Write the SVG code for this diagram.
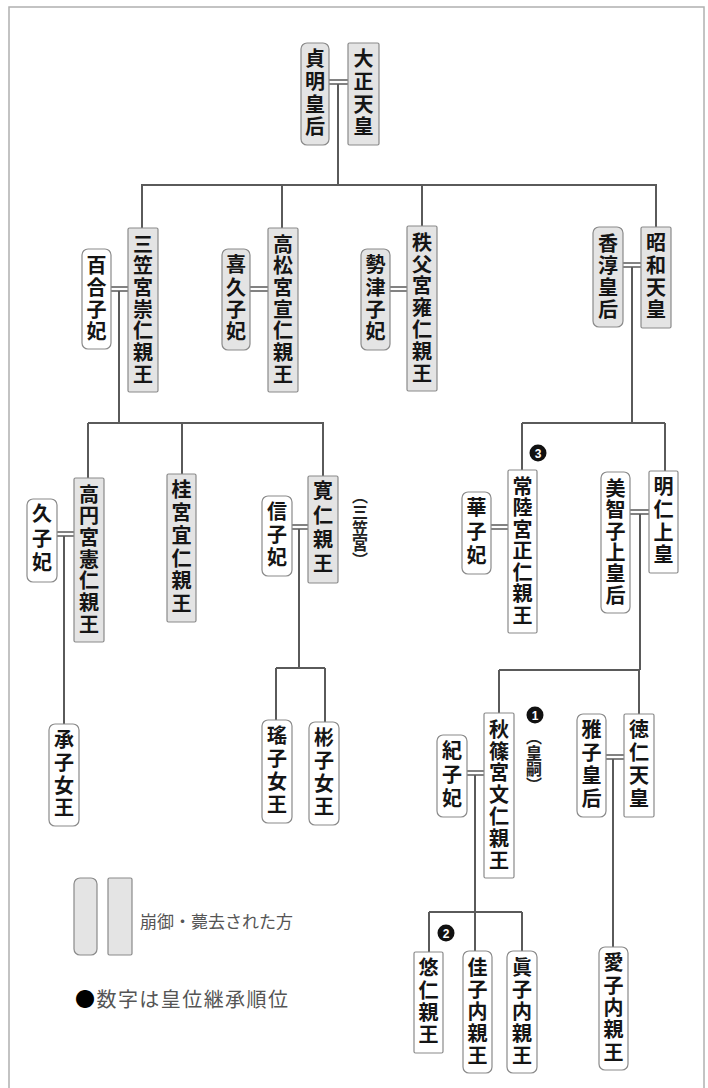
<svg xmlns="http://www.w3.org/2000/svg" width="708" height="1088" viewBox="0 0 708 1088">
<style>
.bg{fill:#ffffff}
.frame{fill:none;stroke:#b0b0b0;stroke-width:1.5}
.dead{fill:#e4e4e4;stroke:#8a8a8a;stroke-width:1.2}
.live{fill:#ffffff;stroke:#8a8a8a;stroke-width:1.2}
.v{font-family:"Noto Sans CJK JP","Noto Sans CJK SC",sans-serif;font-weight:700;font-size:20px;fill:#151515;writing-mode:vertical-rl;text-anchor:middle}
.note{font-family:"Noto Sans CJK JP","Noto Sans CJK SC",sans-serif;font-weight:700;font-size:16px;fill:#222;writing-mode:vertical-rl;text-anchor:middle}
.ln{fill:none;stroke:#5a5a5a;stroke-width:2}
.mar{fill:none;stroke:#5a5a5a;stroke-width:1.5}
.num{fill:#111}
.numt{font-family:"Liberation Sans",sans-serif;font-weight:700;font-size:12px;fill:#fff;text-anchor:middle}
.leg{font-family:"Noto Sans CJK JP","Noto Sans CJK SC",sans-serif;fill:#555}
</style>
<rect class="bg" x="0" y="0" width="708" height="1088"/>
<rect class="frame" x="9" y="7" width="695" height="1095"/>

<g id="connectors">
  <path class="mar" d="M329 80H348M329 84H348"/>
  <path class="ln" d="M338 84V185M141 185H657M142 185V228M282 185V228M422 185V227M656 185V227"/>
  <path class="mar" d="M111 287H128M111 291H128"/>
  <path class="mar" d="M250 287H268M250 291H268"/>
  <path class="mar" d="M390 287H407M390 291H407"/>
  <path class="mar" d="M623 263H641M623 267H641"/>
  <path class="ln" d="M119 291V423M88 423H324M88 423V478M182 423V474M323 423V476"/>
  <path class="mar" d="M57 532H74M57 536H74"/>
  <path class="ln" d="M64 536V724"/>
  <path class="mar" d="M292 525H308M292 529H308"/>
  <path class="ln" d="M299 529V668M276 668H325M276 668V720M325 668V722"/>
  <path class="ln" d="M632 267V423M522 423H665M522 423V470M665 423V471"/>
  <path class="mar" d="M491 525H508M491 529H508"/>
  <path class="mar" d="M630 510H649M630 514H649"/>
  <path class="ln" d="M640 514V670M499 670H640M499 670V713M639 670V714"/>
  <path class="mar" d="M467 771H484M467 775H484"/>
  <path class="ln" d="M475 775V951M429 912H522M429 912V952M522 912V951"/>
  <path class="mar" d="M606 755H624M606 759H624"/>
  <path class="ln" d="M613 759V947"/>
</g>

<g id="n-teimei"><rect class="dead" x="301" y="43" width="28" height="102" rx="6"/><text class="v" x="315" y="94" letter-spacing="2.7">貞明皇后</text></g>
<g id="n-taisho"><rect class="dead" x="348" y="43" width="31" height="102" rx="1.5"/><text class="v" x="363.5" y="94" letter-spacing="2.7">大正天皇</text></g>

<g id="n-mikasa"><rect class="dead" x="128" y="228" width="30" height="164" rx="1.5"/><text class="v" x="143" y="310" letter-spacing="1.7">三笠宮崇仁親王</text></g>
<g id="n-yuriko"><rect class="live" x="82" y="249" width="29" height="100" rx="6"/><text class="v" x="96.5" y="299" letter-spacing="2">百合子妃</text></g>
<g id="n-kikuko"><rect class="dead" x="222" y="249" width="28" height="101" rx="6"/><text class="v" x="236" y="299.5" letter-spacing="2.3">喜久子妃</text></g>
<g id="n-takamatsu"><rect class="dead" x="268" y="228" width="30" height="164" rx="1.5"/><text class="v" x="283" y="310" letter-spacing="1.7">高松宮宣仁親王</text></g>
<g id="n-setsuko"><rect class="dead" x="361" y="249" width="29" height="101" rx="6"/><text class="v" x="375.5" y="299.5" letter-spacing="2.3">勢津子妃</text></g>
<g id="n-chichibu"><rect class="dead" x="407" y="226" width="30" height="165" rx="1.5"/><text class="v" x="422" y="308.5" letter-spacing="1.8">秩父宮雍仁親王</text></g>
<g id="n-kojun"><rect class="dead" x="593" y="227" width="30" height="100" rx="6"/><text class="v" x="608" y="277" letter-spacing="2">香淳皇后</text></g>
<g id="n-showa"><rect class="dead" x="641" y="227" width="30" height="101" rx="1.5"/><text class="v" x="656" y="277.5" letter-spacing="2.3">昭和天皇</text></g>

<g id="n-takamado"><rect class="dead" x="74" y="478" width="30" height="164" rx="1.5"/><text class="v" x="89" y="560" letter-spacing="1.7">高円宮憲仁親王</text></g>
<g id="n-hisako"><rect class="live" x="27" y="499" width="30" height="83" rx="6"/><text class="v" x="42" y="540.5" letter-spacing="4.5">久子妃</text></g>
<g id="n-katsura"><rect class="dead" x="167" y="474" width="29" height="148" rx="1.5"/><text class="v" x="181.5" y="548" letter-spacing="2.8">桂宮宜仁親王</text></g>
<g id="n-tomohito"><rect class="dead" x="308" y="476" width="30" height="107" rx="1.5"/><text class="v" x="323" y="529.5" letter-spacing="4.3">寛仁親王</text></g>
<g id="n-nobuko"><rect class="live" x="262" y="496" width="30" height="80" rx="6"/><text class="v" x="277" y="536" letter-spacing="3">信子妃</text></g>
<g id="t-mikasanomiya"><text class="note" x="360" y="528">（三笠宮）</text></g>
<g id="n-tsuguko"><rect class="live" x="49" y="724" width="30" height="102" rx="6"/><text class="v" x="64" y="775" letter-spacing="2.7">承子女王</text></g>
<g id="n-yoko"><rect class="live" x="262" y="720" width="30" height="103" rx="6"/><text class="v" x="277" y="771.5" letter-spacing="3">瑤子女王</text></g>
<g id="n-akiko"><rect class="live" x="309" y="722" width="30" height="103" rx="6"/><text class="v" x="324" y="773.5" letter-spacing="3">彬子女王</text></g>

<g id="n-hitachi"><rect class="live" x="508" y="470" width="29" height="163" rx="1.5"/><text class="v" x="522.5" y="551.5" letter-spacing="1.5">常陸宮正仁親王</text><circle class="num" cx="538" cy="453" r="8.5"/><text class="numt" x="538" y="457.5">3</text></g>
<g id="n-hanako"><rect class="live" x="462" y="492" width="29" height="82" rx="6"/><text class="v" x="476.5" y="533" letter-spacing="4">華子妃</text></g>
<g id="n-michiko"><rect class="live" x="601" y="472" width="29" height="141" rx="6"/><text class="v" x="615.5" y="542.5" letter-spacing="1.4">美智子上皇后</text></g>
<g id="n-akihito"><rect class="live" x="649" y="471" width="29" height="102" rx="1.5"/><text class="v" x="663.5" y="522" letter-spacing="2.7">明仁上皇</text></g>

<g id="n-akishino"><rect class="live" x="484" y="713" width="30" height="165" rx="1.5"/><text class="v" x="499" y="795.5" letter-spacing="1.8">秋篠宮文仁親王</text><circle class="num" cx="535" cy="715" r="8.5"/><text class="numt" x="535" y="719.5">1</text></g>
<g id="t-koshi"><text class="note" x="534" y="761">（皇嗣）</text></g>
<g id="n-kiko"><rect class="live" x="437" y="735" width="30" height="82" rx="6"/><text class="v" x="452" y="776" letter-spacing="4">紀子妃</text></g>
<g id="n-naruhito"><rect class="live" x="624" y="714" width="30" height="103" rx="1.5"/><text class="v" x="639" y="765.5" letter-spacing="3">徳仁天皇</text></g>
<g id="n-masako"><rect class="live" x="577" y="714" width="29" height="103" rx="6"/><text class="v" x="591.5" y="765.5" letter-spacing="3">雅子皇后</text></g>

<g id="n-hisahito"><rect class="live" x="414" y="952" width="29" height="101" rx="1.5"/><text class="v" x="428.5" y="1002.5" letter-spacing="2.3">悠仁親王</text><circle class="num" cx="446" cy="933" r="8.5"/><text class="numt" x="446" y="937.5">2</text></g>
<g id="n-kako"><rect class="live" x="463" y="951" width="29" height="122" rx="6"/><text class="v" x="477.5" y="1012" letter-spacing="2">佳子内親王</text></g>
<g id="n-mako"><rect class="live" x="507" y="951" width="30" height="122" rx="6"/><text class="v" x="522" y="1012" letter-spacing="2">眞子内親王</text></g>
<g id="n-aiko"><rect class="live" x="599" y="947" width="29" height="123" rx="6"/><text class="v" x="613.5" y="1008.5" letter-spacing="2.3">愛子内親王</text></g>

<g id="legend">
  <rect class="dead" x="74" y="878" width="23" height="77" rx="6"/>
  <rect class="dead" x="108" y="878" width="24" height="77" rx="1.5"/>
  <text class="leg" x="140" y="928" font-size="17">崩御・薨去された方</text>
  <text class="leg" x="75" y="1007" font-size="20" textLength="213" lengthAdjust="spacing" fill="#444"><tspan fill="#000">●</tspan>数字は皇位継承順位</text>
</g>
</svg>
